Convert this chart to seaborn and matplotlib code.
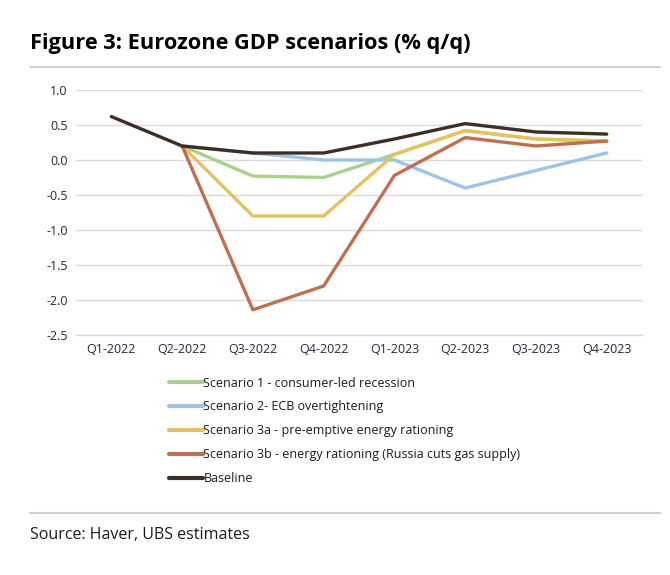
import numpy as np
import pandas as pd
import matplotlib
matplotlib.use("Agg")
import matplotlib.pyplot as plt
import seaborn as sns
from matplotlib.lines import Line2D

quarters = ["Q1-2022", "Q2-2022", "Q3-2022", "Q4-2022", "Q1-2023", "Q2-2023", "Q3-2023", "Q4-2023"]
scenario1 = [np.nan, 0.20, -0.23, -0.25, 0.08, 0.42, 0.30, 0.27]
scenario2 = [np.nan, 0.20, 0.10, 0.00, 0.00, -0.40, -0.15, 0.10]
scenario3a = [np.nan, 0.20, -0.80, -0.80, 0.08, 0.42, 0.30, 0.27]
scenario3b = [np.nan, 0.20, -2.14, -1.80, -0.22, 0.32, 0.20, 0.27]
baseline = [0.62, 0.20, 0.10, 0.10, 0.30, 0.52, 0.40, 0.37]

names = ["Scenario 1 - consumer-led recession",
         "Scenario 2- ECB overtightening",
         "Scenario 3a - pre-emptive energy rationing",
         "Scenario 3b - energy rationing (Russia cuts gas supply)",
         "Baseline"]
series = [scenario1, scenario2, scenario3a, scenario3b, baseline]
colors = ["#A9D18E", "#9DC3E6", "#E6C25E", "#C0704F", "#3A2E26"]

rows = []
for n, vals in zip(names, series):
    for i, (q, v) in enumerate(zip(quarters, vals)):
        rows.append({"x": i, "quarter": q, "value": v, "series": n})
df = pd.DataFrame(rows).dropna()

sns.set_theme(style="white")
plt.rcParams["font.family"] = ["Open Sans", "DejaVu Sans"]

fig = plt.figure(figsize=(6.7, 5.75), dpi=100)
ax = fig.add_axes([0.1134, 0.4174, 0.845, 0.4261])

sns.lineplot(data=df, x="x", y="value", hue="series", hue_order=names,
             palette=dict(zip(names, colors)), linewidth=2.4, ax=ax,
             legend=False, sort=True)

ax.set_xlim(-0.5, 7.5)
ax.set_ylim(-2.5, 1.0)
ax.set_yticks(np.arange(-2.5, 1.01, 0.5))
ax.set_yticklabels([f"{v:.1f}" for v in np.arange(-2.5, 1.01, 0.5)])
ax.set_xticks(range(len(quarters)))
ax.set_xticklabels(quarters)
ax.yaxis.grid(True, color="#D9D9D9", linewidth=1)
ax.xaxis.grid(False)
for s in ["top", "right", "left"]:
    ax.spines[s].set_visible(False)
ax.spines["bottom"].set_color("#D9D9D9")
ax.spines["bottom"].set_linewidth(1)
ax.tick_params(axis="both", length=0, labelsize=9, labelcolor="#262640", pad=6)
ax.set_xlabel("")
ax.set_ylabel("")

handles = [Line2D([0], [0], color=c, lw=3) for c in colors]
fig.legend(handles, names, loc="upper left", bbox_to_anchor=(0.243, 0.356),
           frameon=False, fontsize=9, handlelength=2.7, handletextpad=0.05,
           labelspacing=0.87, borderpad=0, labelcolor="#1a1a1a")

fig.text(0.045, 0.925, "Figure 3: Eurozone GDP scenarios (% q/q)", fontsize=15.7,
         fontweight="bold", color="black", va="center", ha="left")
fig.add_artist(Line2D([0.045, 0.985], [0.884, 0.884], color="#D0D0D0", lw=1.5,
                      transform=fig.transFigure))
fig.add_artist(Line2D([0.045, 0.985], [0.108, 0.108], color="#D0D0D0", lw=1.5,
                      transform=fig.transFigure))
fig.text(0.045, 0.07, "Source: Haver, UBS estimates", fontsize=11.5,
         color="#1a1a1a", va="center", ha="left")

fig.savefig("out.png", dpi=100, facecolor="white")
